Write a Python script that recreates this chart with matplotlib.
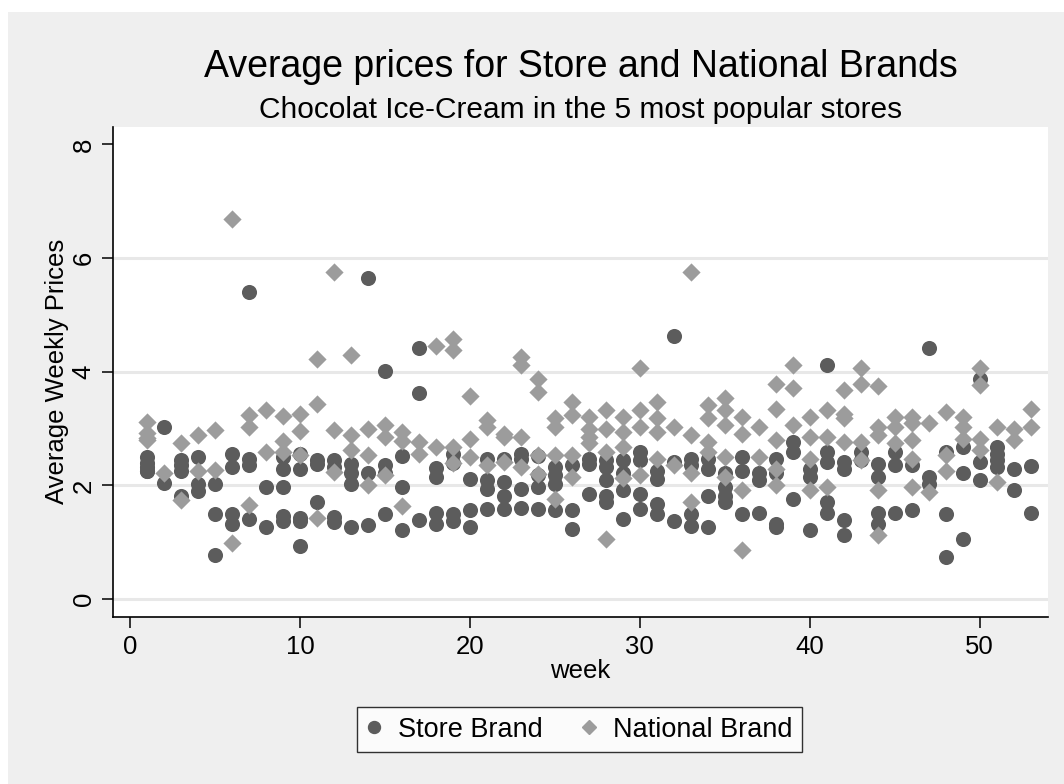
import matplotlib
matplotlib.use("Agg")
import matplotlib.pyplot as plt
from matplotlib.patches import Rectangle
from matplotlib.lines import Line2D

plt.rcParams['font.family'] = ['Liberation Sans', 'DejaVu Sans']

# average weekly prices per week, one entry per store seen that week
weeks = list(range(1, 54))

store_prices = [
    [2.50, 2.40, 2.33, 2.26, 2.25], [3.03, 2.05], [2.44, 2.35, 2.26, 1.82],
    [2.50, 2.02, 1.90], [2.02, 1.50, 0.78], [2.56, 2.32, 1.50, 1.32],
    [5.41, 2.47, 2.35, 1.40], [1.97, 1.27], [2.50, 2.28, 1.97, 1.47, 1.37],
    [2.56, 2.28, 1.42, 1.38, 0.94], [2.44, 2.38, 1.70], [2.44, 2.32, 1.44, 1.36],
    [2.38, 2.21, 2.03, 1.26], [5.64, 2.21, 1.30], [4.02, 2.35, 2.22, 1.50],
    [2.52, 1.97, 1.21], [4.42, 3.63, 1.39], [2.30, 2.15, 1.51, 1.32],
    [2.55, 2.40, 1.50, 1.38], [2.12, 1.57, 1.26], [2.47, 2.09, 1.94, 1.59],
    [2.47, 2.06, 1.82, 1.59], [2.56, 2.47, 1.94, 1.60], [2.52, 2.18, 1.97, 1.59],
    [2.32, 2.18, 2.03, 1.56], [2.35, 1.56, 1.24], [2.47, 2.38, 1.85],
    [2.44, 2.32, 2.09, 1.82, 1.71], [2.44, 2.21, 1.91, 1.41], [2.59, 2.44, 1.85, 1.59],
    [2.26, 2.12, 1.68, 1.50], [4.62, 2.41, 1.38], [2.47, 2.35, 1.50, 1.29],
    [2.47, 2.29, 1.82, 1.26], [2.21, 1.97, 1.82, 1.71], [2.50, 2.26, 1.50],
    [2.21, 2.09, 1.51], [2.47, 2.21, 1.32, 1.26], [2.76, 2.59, 1.76],
    [2.29, 2.15, 1.22], [4.11, 2.59, 2.41, 1.71, 1.51], [2.41, 2.29, 1.39, 1.13],
    [2.59, 2.45], [2.38, 2.15, 1.51, 1.32], [2.59, 2.35, 1.51],
    [2.35, 1.56], [4.42, 2.15, 2.03], [2.59, 1.50, 0.74],
    [2.68, 2.22, 1.06], [3.88, 2.41, 2.10], [2.68, 2.56, 2.44, 2.32],
    [2.29, 1.92], [2.34, 1.51],
]

national_prices = [
    [3.12, 2.92, 2.84, 2.80], [2.22], [2.74, 1.74], [2.88, 2.26], [2.97, 2.27],
    [6.69, 0.98], [3.24, 3.03, 1.65], [3.32, 2.59], [3.22, 2.78, 2.59],
    [3.26, 2.95, 2.53], [4.23, 3.44, 1.43], [5.75, 2.97, 2.24], [4.29, 2.88, 2.62],
    [3.00, 2.53, 2.00], [3.06, 2.85, 2.18], [2.94, 2.78, 1.63], [2.76, 2.56],
    [4.46, 2.68], [4.58, 4.38, 2.68, 2.40], [3.57, 2.82, 2.50], [3.15, 3.03, 2.35],
    [2.91, 2.85, 2.41], [4.26, 4.12, 2.85, 2.32], [3.88, 3.65, 2.53, 2.20],
    [3.18, 3.03, 2.53, 1.76], [3.47, 3.24, 2.53, 2.15], [3.21, 3.00, 2.85, 2.74],
    [3.32, 3.00, 2.59, 1.06], [3.21, 2.94, 2.68, 2.13], [4.06, 3.32, 3.03, 2.18],
    [3.47, 3.18, 2.94, 2.47], [3.03, 2.35], [5.75, 2.88, 2.21, 1.71],
    [3.41, 3.18, 2.76, 2.59], [3.53, 3.32, 3.06, 2.50, 2.15], [3.21, 2.91, 1.91, 0.86],
    [3.03, 2.50], [3.78, 3.35, 2.79, 2.29, 2.00], [4.12, 3.71, 3.06],
    [3.21, 2.85, 2.47, 1.91], [3.32, 2.85, 1.98], [3.68, 3.26, 3.18, 2.76],
    [4.06, 3.78, 2.76, 2.44], [3.75, 3.03, 2.88, 1.92, 1.12], [3.21, 3.03, 2.74],
    [3.21, 3.09, 2.79, 2.47, 1.97], [3.09, 1.88], [3.29, 2.53, 2.26],
    [3.21, 3.03, 2.82], [4.06, 3.76, 2.82, 2.62], [3.03, 2.06], [3.00, 2.79],
    [3.35, 3.03],
]

series_labels = ['Store Brand', 'National Brand']
store_color = '#5c5c5c'
national_color = '#9c9c9c'
frame_color = '#efefef'


def flatten(prices):
    xs, ys = [], []
    for w, vals in zip(weeks, prices):
        for v in vals:
            xs.append(w)
            ys.append(v)
    return xs, ys


sx, sy = flatten(store_prices)
nx, ny = flatten(national_prices)

fig = plt.figure(figsize=(10.64, 7.84), dpi=100)
fig.patch.set_facecolor('white')
fig.add_artist(Rectangle((8 / 1064, 0), 1 - 8 / 1064, 1 - 12 / 784,
                         transform=fig.transFigure, facecolor=frame_color,
                         edgecolor='none', zorder=0))

ax = fig.add_axes([0.1062, 0.2134, 0.8785, 0.6250])
ax.set_facecolor('white')

ax.scatter(sx, sy, s=118, marker='o', color=store_color, linewidths=0, zorder=3)
ax.scatter(nx, ny, s=86, marker='D', color=national_color, linewidths=0, zorder=4)

ax.set_xlim(-1.0, 54.0)
ax.set_ylim(-0.31, 8.31)
ax.set_xticks([0, 10, 20, 30, 40, 50])
ax.set_yticks([0, 2, 4, 6, 8])
for g in [0, 2, 4, 6]:
    ax.axhline(g, color='#e8e8e8', lw=2.2, zorder=1)

for side in ['top', 'right']:
    ax.spines[side].set_visible(False)
for side in ['left', 'bottom']:
    ax.spines[side].set_color('black')
    ax.spines[side].set_linewidth(1.2)

ax.tick_params(axis='both', direction='out', length=8, width=1.1, labelsize=18.5)
ax.tick_params(axis='x', pad=5)
ax.tick_params(axis='y', pad=4.5)
for lab in ax.get_yticklabels():
    lab.set_rotation(90)
    lab.set_va('center')

ax.set_xlabel('week', fontsize=18.5, labelpad=0)
ax.set_ylabel('Average Weekly Prices', fontsize=18.5, labelpad=2)

fig.text(0.546, 1 - 77 / 784, 'Average prices for Store and National Brands',
         ha='center', va='baseline', fontsize=27)
fig.text(0.546, 1 - 118 / 784, 'Chocolat Ice-Cream in the 5 most popular stores',
         ha='center', va='baseline', fontsize=21.5)

handles = [
    Line2D([], [], marker='o', ls='none', color=store_color, markersize=8.6),
    Line2D([], [], marker='D', ls='none', color=national_color, markersize=7.6),
]
leg = fig.legend(handles, series_labels, loc='center', bbox_to_anchor=(0.545, 0.0695),
                 ncol=2, fontsize=19.5, frameon=True, fancybox=False,
                 handletextpad=0.64, columnspacing=1.46, borderpad=0.36,
                 handlelength=0.5)
leg.get_frame().set_edgecolor('black')
leg.get_frame().set_linewidth(1.0)
leg.get_frame().set_facecolor('white')

fig.savefig('out.png', dpi=100)
